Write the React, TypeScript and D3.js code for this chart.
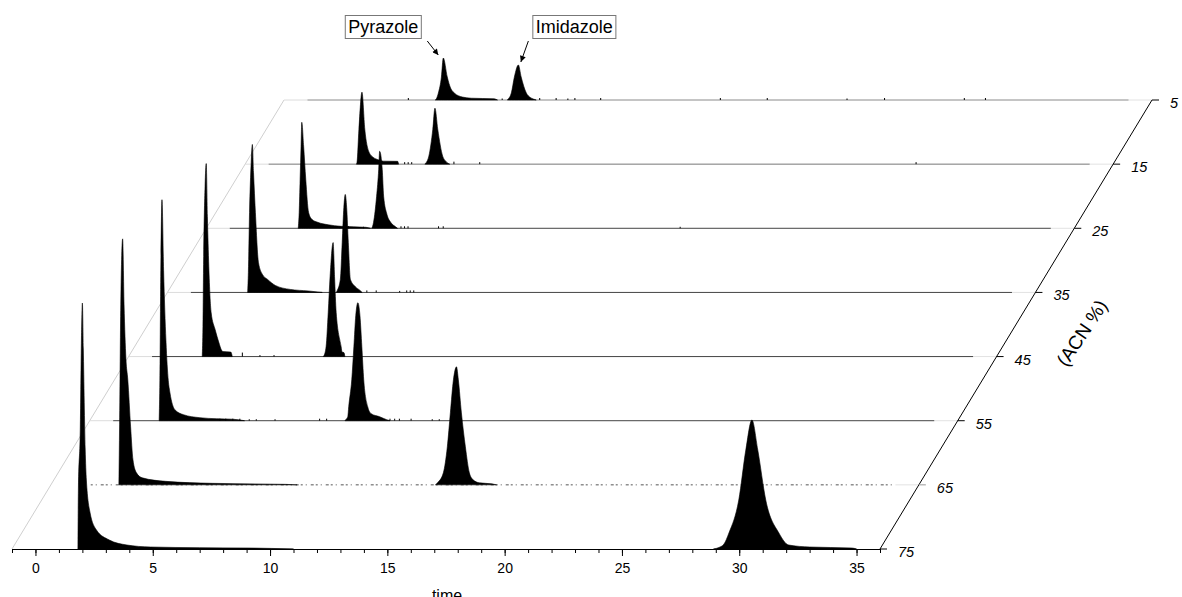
import React, { useRef, useEffect } from 'react'
import * as d3 from "d3";

// ACN levels (%), back row first
const acnLevels = [5, 15, 25, 35, 45, 55, 65, 75];
const timeTicks = [0, 5, 10, 15, 20, 25, 30, 35];
const timeDomain = [-1, 36];
const runEnd = 35;

// peak profiles: [time (min), signal]
const pyrazole5 = [[5.45, 0], [5.49, 1], [5.58, 7], [5.71, 23], [5.79, 42], [5.96, 23], [6.1, 12], [6.26, 7], [6.6, 3], [6.98, 1.8], [7.96, 1.2], [8.1, 0]];
const imidazole5 = [[8.52, 0], [8.56, 1], [8.69, 7], [8.82, 23], [8.99, 35], [9.11, 23], [9.33, 7], [9.5, 2.5], [9.63, 1], [9.75, 0]];

const pyrazole15 = [[3.74, 0], [3.77, 2], [3.85, 35], [3.98, 72], [4.1, 35], [4.28, 12], [4.45, 7], [4.66, 4.5], [4.9, 3], [5.5, 2.8], [5.54, 0]];
const imidazole15 = [[6.66, 0], [6.7, 1], [6.83, 8], [7.0, 35], [7.09, 56], [7.21, 35], [7.42, 8], [7.55, 3], [7.64, 1], [7.72, 0]];

const pyrazole25 = [[2.92, 0], [2.96, 16], [3.0, 49], [3.04, 82], [3.07, 106], [3.15, 82], [3.24, 49], [3.36, 16], [3.5, 9], [3.75, 6], [4.2, 3.5], [4.73, 2], [5.8, 1], [6.0, 0]];
const imidazole25 = [[6.05, 0], [6.09, 2], [6.13, 6], [6.26, 32], [6.35, 59], [6.39, 77], [6.5, 59], [6.56, 32], [6.7, 14], [6.86, 6], [7.07, 1.5], [7.15, 0]];

const pyrazole35 = [[2.42, 0], [2.45, 20], [2.5, 80], [2.57, 130], [2.62, 148], [2.67, 120], [2.75, 80], [2.88, 30], [3.05, 18], [3.27, 13], [3.6, 7], [4.24, 3], [5.0, 1.5], [5.6, 0]];
const imidazole35 = [[6.2, 0], [6.24, 2], [6.37, 13], [6.45, 50], [6.52, 85], [6.58, 98], [6.64, 85], [6.71, 50], [6.8, 13], [7.0, 6], [7.21, 2], [7.3, 0]];

const pyrazole45 = [[2.14, 0], [2.17, 30], [2.2, 100], [2.26, 170], [2.31, 193], [2.36, 140], [2.42, 90], [2.52, 44], [2.69, 27], [2.85, 14], [2.95, 7], [3.02, 5], [3.36, 4.5], [3.42, 0]];
const imidazole45 = [[7.3, 0], [7.33, 1], [7.42, 10], [7.51, 44], [7.59, 80], [7.72, 114], [7.78, 80], [7.85, 44], [8.06, 10], [8.1, 4.5], [8.18, 4], [8.22, 0]];

const pyrazole55 = [[1.96, 0], [1.99, 40], [2.03, 150], [2.08, 221], [2.15, 150], [2.25, 80], [2.35, 40], [2.42, 28], [2.63, 11], [3.0, 6], [3.7, 3], [4.4, 2], [5.1, 1.5], [5.6, 0]];
const imidazole55 = [[9.88, 0], [9.91, 1], [10.0, 4], [10.04, 14], [10.17, 41], [10.26, 74], [10.34, 105], [10.43, 118], [10.52, 105], [10.6, 74], [10.68, 41], [10.85, 14], [11.0, 7], [11.36, 4], [11.66, 1], [11.8, 0]];

const pyrazole65 = [[1.9, 0], [1.93, 60], [1.98, 180], [2.06, 246], [2.12, 180], [2.2, 126], [2.28, 105], [2.4, 58], [2.5, 25], [2.65, 12], [2.9, 7], [3.9, 3.5], [5.9, 1.5], [9.0, 0.5], [9.5, 0]];
const imidazole65 = [[15.4, 0], [15.48, 2], [15.73, 12], [15.9, 38], [16.03, 72], [16.16, 105], [16.29, 118], [16.37, 105], [16.5, 72], [16.67, 38], [16.84, 12], [17.0, 5], [17.27, 2], [17.8, 1], [18.0, 0]];

const pyrazole75 = [[1.81, 0], [1.83, 60], [1.91, 120], [1.96, 210], [2.0, 246], [2.04, 200], [2.12, 100], [2.17, 69], [2.33, 36], [2.6, 19], [3.15, 9], [3.9, 4], [4.9, 2], [7.0, 1.3], [9.1, 1], [11, 0]];
const imidazole75 = [[28.9, 0], [29.13, 1.5], [29.35, 5], [29.56, 16], [29.98, 49], [30.28, 99], [30.54, 129], [30.79, 99], [31.13, 49], [31.69, 16], [32.11, 4], [33.0, 2], [34.8, 1], [35.0, 0]];

// small baseline spikes: [time, signal]
const spikes5 = [[4.3, 2], [8.3, 1.5], [9.9, 2], [10.6, 2], [11.1, 1.5], [11.4, 2], [12.5, 2], [17.6, 2], [19.6, 2], [23.0, 1.5], [24.6, 2], [28.0, 2], [28.9, 2]];
const spikes15 = [[5.8, 2], [5.95, 2], [6.1, 2], [7.9, 2.5], [9.0, 2], [27.6, 2]];
const spikes25 = [[4.7, 2], [5.06, 2], [5.7, 1.5], [7.3, 2], [7.45, 2], [7.6, 2], [8.9, 2], [9.1, 2], [19.2, 1.5]];
const spikes35 = [[7.5, 2], [7.9, 2], [8.9, 1.5], [9.2, 2], [9.35, 2], [9.5, 2]];
const spikes45 = [[3.85, 4], [4.6, 1.5], [5.2, 1.5]];
const spikes55 = [[4.55, 2], [4.8, 2], [5.1, 2], [5.4, 2], [5.8, 1.5], [6.1, 1.5], [6.9, 1.5], [8.8, 2], [9.1, 2], [11.8, 2], [12.0, 2], [12.2, 2], [12.7, 2], [13.6, 1.5], [13.9, 1.5], [14.6, 1.5]];
const spikes65 = [];
const spikes75 = [];

const rowStart = [0, 0, 0, 0, 0, 0, 0.7, 0];

const rows = [
    { acn: 5, peaks: [pyrazole5, imidazole5], spikes: spikes5 },
    { acn: 15, peaks: [pyrazole15, imidazole15], spikes: spikes15 },
    { acn: 25, peaks: [pyrazole25, imidazole25], spikes: spikes25 },
    { acn: 35, peaks: [pyrazole35, imidazole35], spikes: spikes35 },
    { acn: 45, peaks: [pyrazole45, imidazole45], spikes: spikes45 },
    { acn: 55, peaks: [pyrazole55, imidazole55], spikes: spikes55 },
    { acn: 65, peaks: [pyrazole65, imidazole65], spikes: spikes65 },
    { acn: 75, peaks: [pyrazole75, imidazole75], spikes: spikes75 },
];

const rowColor = { 5: "#8a8a8a", 15: "#777", 25: "#444", 35: "#444", 45: "#444", 55: "#444", 65: "#555", 75: "#000" };

const FONT = "Arial, 'Liberation Sans', sans-serif";

function Chromatograms() {

    const ref = useRef(null);

    useEffect(() => {
        if (!ref.current) return;
        const svg = d3.select(ref.current);
        svg.selectAll("*").remove();

        // scales
        const x = d3.scaleLinear().domain(timeDomain).range([12, 880]);
        const depthX = d3.scaleLinear().domain([75, 5]).range([0, 272]);
        const baseY = d3.scaleLinear().domain([75, 5]).range([549, 100]);
        const signal = d3.scaleLinear().domain([0, 250]).range([0, 250]);

        const defs = svg.append("defs");
        defs.append("marker")
            .attr("id", "arrowHead")
            .attr("viewBox", "0 0 10 10")
            .attr("refX", 10)
            .attr("refY", 5)
            .attr("markerUnits", "userSpaceOnUse")
            .attr("markerWidth", 9)
            .attr("markerHeight", 6)
            .attr("orient", "auto")
            .append("path")
            .attr("d", "M0,0 L10,5 L0,10 z")
            .attr("fill", "#000");

        // left floor edge
        svg.append("line")
            .attr("x1", x(timeDomain[0]) + depthX(75)).attr("y1", baseY(75))
            .attr("x2", x(timeDomain[0]) + depthX(5)).attr("y2", baseY(5))
            .attr("stroke", "#cfcfcf").attr("stroke-width", 1);

        const area = d3.area()
            .x(d => x(d[0]))
            .y0(0)
            .y1(d => -signal(d[1]))
            .curve(d3.curveMonotoneX);

        // rows, back to front
        rows.forEach((row, i) => {
            const g = svg.append("g")
                .attr("transform", `translate(${depthX(row.acn)}, ${baseY(row.acn)})`);

            if (row.acn !== 75) {
                g.append("line")
                    .attr("x1", x(timeDomain[0])).attr("x2", x(rowStart[i]))
                    .attr("y1", 0).attr("y2", 0)
                    .attr("stroke", row.acn === 65 ? "none" : "#dcdcdc");
                g.append("line")
                    .attr("x1", x(runEnd)).attr("x2", x(timeDomain[1]))
                    .attr("y1", 0).attr("y2", 0)
                    .attr("stroke", "#e2e2e2");
                g.append("line")
                    .attr("x1", x(rowStart[i])).attr("x2", x(runEnd))
                    .attr("y1", 0).attr("y2", 0)
                    .attr("stroke", rowColor[row.acn])
                    .attr("stroke-width", 1)
                    .attr("stroke-dasharray", row.acn === 65 ? "2,3,1,4,3,2" : null);
            }

            g.selectAll(".spike")
                .data(row.spikes)
                .enter()
                .append("line")
                .attr("x1", d => x(d[0])).attr("x2", d => x(d[0]))
                .attr("y1", 0).attr("y2", d => -signal(d[1]))
                .attr("stroke", "#000").attr("stroke-width", 1);

            g.selectAll(".peak")
                .data(row.peaks)
                .enter()
                .append("path")
                .attr("d", d => area(d))
                .attr("fill", "#000")
                .attr("stroke", "#000")
                .attr("stroke-width", 0.6)
                .attr("stroke-linejoin", "round");
        });

        // time axis
        const axisG = svg.append("g").attr("transform", `translate(0, ${baseY(75)})`);
        axisG.call(d3.axisBottom(x).tickValues(d3.range(timeDomain[0], timeDomain[1] + 1)).tickSize(4).tickSizeOuter(0).tickFormat(() => ""));
        axisG.select(".domain").attr("stroke", "#000");
        const majorG = svg.append("g").attr("transform", `translate(0, ${baseY(75)})`);
        majorG.call(d3.axisBottom(x).tickValues(timeTicks).tickSize(7).tickPadding(7).tickFormat(d3.format("d")));
        majorG.select(".domain").remove();
        majorG.selectAll("text")
            .attr("font-family", FONT)
            .attr("font-size", 14)
            .attr("fill", "#000");

        svg.append("text")
            .attr("x", 447)
            .attr("y", 601)
            .attr("text-anchor", "middle")
            .attr("font-family", FONT)
            .attr("font-size", 16)
            .text("time");

        // ACN depth axis
        const axisX = x(timeDomain[1]);
        svg.append("line")
            .attr("x1", axisX + depthX(75)).attr("y1", baseY(75))
            .attr("x2", axisX + depthX(5)).attr("y2", baseY(5))
            .attr("stroke", "#000").attr("stroke-width", 1);

        const depthTicks = svg.selectAll(".depthTick")
            .data(acnLevels)
            .enter()
            .append("g")
            .attr("transform", d => `translate(${axisX + depthX(d)}, ${baseY(d)})`);
        depthTicks.append("line")
            .attr("x1", 0).attr("x2", 7)
            .attr("y1", 0).attr("y2", 0)
            .attr("stroke", d => d === 65 ? "#999" : "#000");
        depthTicks.append("text")
            .attr("x", 18)
            .attr("y", 8)
            .attr("font-family", FONT)
            .attr("font-size", 14.5)
            .attr("font-style", "italic")
            .text(d => d);

        svg.append("text")
            .attr("transform", "translate(1082, 333) rotate(-56)")
            .attr("text-anchor", "middle")
            .attr("dominant-baseline", "central")
            .attr("font-family", FONT)
            .attr("font-size", 19)
            .text("(ACN %)");

        // peak labels on the 5 % ACN row
        const labels = [
            { text: "Pyrazole", peak: pyrazole5, dx: -60, dy: -31, ax: -16, ay: -17, tx: -5, ty: -3 },
            { text: "Imidazole", peak: imidazole5, dx: 56, dy: -38, ax: 10, ay: -24, tx: 2.5, ty: -3 },
        ];
        labels.forEach(l => {
            const top = l.peak.reduce((a, b) => (b[1] > a[1] ? b : a));
            const px = depthX(5) + x(top[0]);
            const py = baseY(5) - signal(top[1]);
            svg.append("line")
                .attr("x1", px + l.ax).attr("y1", py + l.ay)
                .attr("x2", px + l.tx).attr("y2", py + l.ty)
                .attr("stroke", "#000").attr("stroke-width", 1)
                .attr("marker-end", "url(#arrowHead)");
            const lg = svg.append("g");
            const box = lg.append("rect");
            const t = lg.append("text")
                .attr("x", px + l.dx)
                .attr("y", py + l.dy)
                .attr("text-anchor", "middle")
                .attr("dominant-baseline", "central")
                .attr("font-family", FONT)
                .attr("font-size", 18)
                .text(l.text);
            const bb = t.node().getBBox();
            box.attr("x", bb.x - 3).attr("y", py + l.dy - 11.5)
                .attr("width", bb.width + 6).attr("height", 23)
                .attr("fill", "#fff")
                .attr("stroke", "#777")
                .attr("stroke-width", 1);
        });
    }, []);

    return (
        <svg ref={ref} width={1182} height={597}
            style={{ position: "absolute", left: 0, top: 0, display: "block", background: "#fff" }}></svg>
    )
}

export default function App() {
    return (
        <div style={{ width: "100%" }}>
            <Chromatograms />
        </div>
    )
}
